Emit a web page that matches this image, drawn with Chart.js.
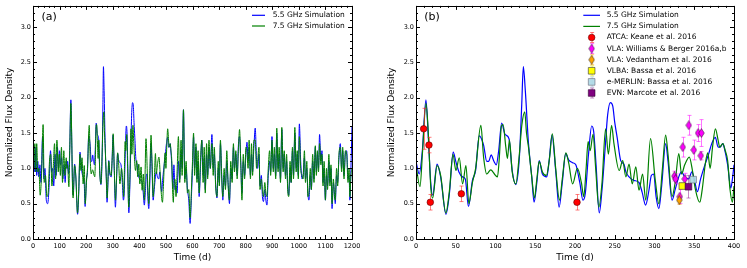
<!DOCTYPE html>
<html>
<head>
<meta charset="utf-8">
<script src="https://cdn.jsdelivr.net/npm/chart.js@4.4.0/dist/chart.umd.min.js"></script>
<style>
  html, body { margin: 0; padding: 0; background: #fff; }
  #wrap { position: relative; width: 747px; height: 268px; overflow: hidden; }
  canvas { position: absolute; top: 0; }
  #chartA { left: 0; }
  #chartB { left: 380px; }
</style>
</head>
<body>
<div id="wrap">
  <canvas id="chartA" width="372" height="268"></canvas>
  <canvas id="chartB" width="367" height="268"></canvas>
</div>
<script>
const FONT = "DejaVu Sans";

// tick labels
const yTicks = [0, 0.5, 1.0, 1.5, 2.0, 2.5, 3.0];
const xTicksA = [0, 100, 200, 300, 400, 500, 600, 700, 800, 900, 1000, 1100, 1200];
const xTicksB = [0, 50, 100, 150, 200, 250, 300, 350, 400];

// panel (a): 1200 d simulation
const tA55 = [0,3,7,11,14,18,22,26,30,36,41,45,50,55,60,66,70,74,78,83,87,92,96,100,104,108,112,117,121,125,128,
  130,134,138,142.5,145.5,148.5,151,156.5,161,167.7,172,176.8,180,184,188.5,192,196,201,205,209.5,
  215,219,221.5,224.5,228,231,234,237.8,242,247,251,255.5,260,263,265,267.5,271.5,275.6,278.5,282,
  285,289,294.5,297.5,301,305.7,310,314,318.3,322,327,331,336,340,343,347,351,353.5,356.5,360.5,
  364,368,371,374.5,377.5,380,383,387.5,391.5,394,398,404,410.5,414.5,418.8,423,426,429,432,435.5,
  439,444,447,452,456,460.5,464,468,473,477,480,484,488,494,498,502,506.5,510,512.5,516,
  518,522,526,528,530,
  534,538,542,547,552,557,561,566,571,576,581,586,591,596,600,604,608,613,617,621,
  625,630,635,640,644,648,653,657,662,667,673,678,682,687,692,697,701,705,710,714,
  719,724,729,734,739,744,749,754,758,763,768,773,777,782,786,791,796,801,805,809,
  813,818,822,826,831,836,841,845,850,854,859,863,867,872,876,880,885,890,894,899,
  904,908,913,917,922,926,931,936,941,945,950,954,958,962,967,971,976,980,985,990,
  994,998,1002,1007,1012,1016,1021,1025,1030,1034,1038,1043,1047,1052,1057,1062,1066,1070,1074,1078,
  1083,1087,1091,1095,1100,1104,1108,1113,1117,1121,1125,1130,1134,1137,1142,1146,1151,1156,1161,1165,
  1170,1175,1180,1185,1189,1192,1196,1200];
const fA55 = [0.80,1.25,0.95,1.30,0.90,1.10,0.88,1.05,0.80,1.45,0.85,1.00,0.55,0.50,0.70,1.25,0.95,1.00,0.75,1.20,0.90,1.30,1.00,1.25,1.05,1.15,0.85,1.05,0.80,1.10,1.00,
  1.10,0.92,1.25,1.97,1.44,0.80,0.62,1.06,0.88,0.35,0.64,1.23,1.10,0.95,0.88,0.85,0.46,0.83,0.97,1.46,
  1.33,1.10,1.10,1.19,1.10,1.05,1.25,1.64,1.48,1.42,0.97,0.77,1.15,1.90,2.44,2.10,1.35,0.88,0.52,0.80,
  1.11,0.92,0.88,1.11,1.47,0.97,0.45,0.80,1.21,1.12,1.08,1.05,0.80,0.55,0.65,1.20,1.60,1.52,1.05,0.37,
  0.70,1.30,1.75,1.93,1.88,1.65,1.44,1.11,1.06,0.95,0.88,0.83,0.80,0.66,0.48,0.69,0.90,0.92,0.60,0.43,
  0.75,1.35,1.10,0.55,0.70,0.88,0.95,0.88,0.85,0.95,0.85,0.67,0.85,1.07,1.20,1.35,1.44,1.30,1.30,1.35,
  1.28,1.05,0.72,0.85,1.05,
  0.70,0.75,0.65,1.10,0.85,1.25,1.00,1.83,0.85,1.00,0.70,0.55,0.22,0.60,1.00,1.45,1.00,1.30,0.85,1.10,
  0.60,1.00,1.40,0.90,1.15,0.70,1.20,0.90,1.30,1.00,1.48,1.00,1.20,0.80,0.58,1.00,0.80,1.35,0.90,0.55,
  0.90,0.75,1.10,0.80,0.50,1.00,0.85,1.30,1.00,1.20,0.90,1.35,1.45,1.05,0.65,1.10,0.90,1.20,1.37,1.10,
  1.30,0.90,1.20,0.95,1.30,1.57,1.10,1.00,1.20,0.75,0.90,0.60,0.53,0.70,0.55,0.48,0.90,1.10,0.95,1.45,
  1.00,1.20,0.90,1.50,1.00,1.20,0.85,1.55,1.00,1.20,0.90,1.10,0.75,0.62,1.00,0.80,1.25,0.90,1.50,1.00,
  1.20,0.90,1.63,1.10,0.85,0.90,1.15,0.85,1.00,0.65,0.55,0.90,0.70,1.10,0.85,1.30,0.95,1.20,1.00,1.48,
  1.10,1.25,0.80,1.00,0.55,0.90,0.75,1.10,0.80,1.00,0.43,0.80,0.65,0.50,0.90,0.80,1.15,1.35,1.00,1.25,
  0.90,1.20,1.25,0.85,0.90,0.55,1.00,1.60];

const tA75 = [0,3,7,10,14,18,22,27,33,38,42,47,52,57,62,67,71,76,81,85,90,95,99,103,107,111,116,120,125,128,
  130,135,138.3,142.5,145,148.8,151,156.5,161,167.5,172,176.5,180.2,184.4,188.6,192.8,196.5,201,205,211.6,
  215,219,224,230,232.5,234.5,237.5,239.5,243,245,247.5,251,255.5,260,263,266.8,269,271.5,275.6,279,
  282,285,289,294,298,301.5,305.7,310.5,314,318.5,322,327,333,338,341,344,346.5,349,352.7,356,
  360,364,368.5,372,376,379,385.6,390,394,398,402,406.5,410.5,415,419,425,431,435.5,440,444,
  447,452,456,460.6,464,468,473.8,478,481.5,487,490,494,497,500,503,506.6,510,512,516,519,
  522,525,528,530,
  534,538,542,547,552,557,561,566,571,576,581,586,591,596,600,604,608,613,617,621,
  625,630,635,640,644,648,653,657,662,667,673,678,682,687,692,697,701,705,710,714,
  719,724,729,734,739,744,749,754,758,763,768,773,777,782,786,791,796,801,805,809,
  813,818,822,826,831,836,841,845,850,854,859,863,867,872,876,880,885,890,894,899,
  904,908,913,917,922,926,931,936,941,945,950,954,958,962,967,971,976,980,985,990,
  994,998,1002,1007,1012,1016,1021,1025,1030,1034,1038,1043,1047,1052,1057,1062,1066,1070,1074,1078,
  1083,1087,1091,1095,1100,1104,1108,1113,1117,1121,1125,1130,1134,1137,1142,1146,1151,1156,1161,1165,
  1170,1175,1180,1185,1189,1192,1196,1200];
const fA75 = [1.30,1.00,1.35,0.95,1.35,0.95,1.00,0.62,1.00,1.62,0.80,0.90,0.60,0.65,1.10,1.20,0.75,1.00,1.35,0.85,1.40,0.95,1.20,0.90,1.30,0.80,1.25,0.90,1.15,1.00,
  1.05,0.74,1.25,1.92,1.60,0.70,0.58,1.04,0.90,0.37,0.68,1.20,0.97,1.15,0.78,1.04,0.50,0.80,1.00,1.61,
  1.16,0.92,0.98,0.90,0.88,1.10,1.60,1.62,1.30,1.14,1.40,0.95,0.78,1.20,1.60,1.80,1.50,1.30,0.88,0.58,
  0.85,1.10,0.95,0.90,1.15,1.49,1.00,0.55,0.85,1.22,1.08,0.78,1.00,0.80,0.60,1.00,1.38,1.25,1.48,1.00,
  0.45,0.80,1.56,1.20,1.61,1.35,0.97,1.11,0.88,1.06,0.78,1.02,0.69,0.92,0.55,1.42,0.83,0.50,1.00,1.47,
  1.20,0.60,0.80,1.21,0.92,1.05,1.16,0.95,0.70,0.52,0.70,1.07,1.22,1.00,1.30,1.56,1.40,1.30,1.35,1.25,
  1.11,0.70,0.52,0.75,
  0.85,0.60,0.95,1.45,0.80,1.40,0.90,1.83,0.80,1.10,0.65,0.70,0.30,0.70,1.10,1.50,0.90,1.35,0.80,1.25,
  0.65,1.10,1.40,0.80,1.30,0.65,1.35,0.85,1.40,1.00,1.35,0.90,1.30,0.75,0.60,1.10,0.75,1.40,0.85,0.60,
  1.00,0.70,1.25,0.75,0.55,1.10,0.80,1.35,0.95,1.25,0.85,1.30,1.55,1.00,0.55,1.20,0.85,1.30,1.25,1.00,
  1.40,0.85,1.35,0.90,1.40,1.40,1.00,1.10,1.30,0.70,0.85,0.70,0.60,0.80,0.65,0.60,1.00,1.25,0.90,1.40,
  0.95,1.30,0.85,1.57,0.95,1.30,0.80,1.58,0.95,1.25,0.85,1.20,0.70,0.60,1.10,0.80,1.30,0.85,1.58,0.95,
  1.25,0.85,1.45,1.00,0.90,0.85,1.25,0.80,1.10,0.60,0.65,1.00,0.70,1.20,0.80,1.32,0.90,1.25,0.95,1.35,
  1.05,1.20,0.75,1.10,0.55,1.00,0.70,1.20,0.75,1.05,0.50,0.85,0.60,0.55,1.00,0.75,1.20,1.30,0.95,1.30,
  0.85,1.25,1.20,0.80,1.00,0.60,0.90,1.00];

// panel (b): first 400 d with observations
const tB55 = [0,4,8,12.5,15.5,18.5,21,26.5,31,37.7,42,46.8,50,54,58.5,62,66,71,75,79.5,
  85,89,91.5,94.5,98,101,104,107.8,112,117,121,125.5,130,133,135,137.5,141.5,145.6,148.5,152,
  155,159,164.5,167.5,171,175.7,180,184,188.3,192,197,201,206,210,213,217,221,223.5,226.5,230.5,
  234,238,241,244.5,247.5,250,253,257.5,261.5,264,268,274,280.5,284.5,288.8,293,296,299,302,305.5,
  309,314,317,322,326,330.5,334,338,343,347,350,354,358,364,368,372,376.5,380,382.5,386,
  388,392,396,398,400];
const fB55 = [1.10,0.92,1.25,1.97,1.44,0.80,0.62,1.06,0.88,0.35,0.64,1.23,1.10,0.95,0.88,0.85,0.46,0.83,0.97,1.46,
  1.33,1.10,1.10,1.19,1.10,1.05,1.25,1.64,1.48,1.42,0.97,0.77,1.15,1.90,2.44,2.10,1.35,0.88,0.52,0.80,
  1.11,0.92,0.88,1.11,1.47,0.97,0.45,0.80,1.21,1.12,1.08,1.05,0.80,0.55,0.65,1.20,1.60,1.52,1.05,0.37,
  0.70,1.30,1.75,1.93,1.88,1.65,1.44,1.11,1.06,0.95,0.88,0.83,0.80,0.66,0.48,0.69,0.90,0.92,0.60,0.43,
  0.75,1.35,1.10,0.55,0.70,0.88,0.95,0.88,0.85,0.95,0.85,0.67,0.85,1.07,1.20,1.35,1.44,1.30,1.30,1.35,
  1.28,1.05,0.72,0.85,1.05];
const tB75 = [0,5,8.3,12.5,15,18.8,21,26.5,31,37.5,42,46.5,50.2,54.4,58.6,62.8,66.5,71,75,81.6,
  85,89,94,100,102.5,104.5,107.5,109.5,113,115,117.5,121,125.5,130,133,136.8,139,141.5,145.6,149,
  152,155,159,164,168,171.5,175.7,180.5,184,188.5,192,197,203,208,211,214,216.5,219,222.7,226,
  230,234,238.5,242,246,249,255.6,260,264,268,272,276.5,280.5,285,289,295,301,305.5,310,314,
  317,322,326,330.6,334,338,343.8,348,351.5,357,360,364,367,370,373,376.6,380,382,386,389,
  392,395,398,400];
const fB75 = [1.05,0.74,1.25,1.92,1.60,0.70,0.58,1.04,0.90,0.37,0.68,1.20,0.97,1.15,0.78,1.04,0.50,0.80,1.00,1.61,
  1.16,0.92,0.98,0.90,0.88,1.10,1.60,1.62,1.30,1.14,1.40,0.95,0.78,1.20,1.60,1.80,1.50,1.30,0.88,0.58,
  0.85,1.10,0.95,0.90,1.15,1.49,1.00,0.55,0.85,1.22,1.08,0.78,1.00,0.80,0.60,1.00,1.38,1.25,1.48,1.00,
  0.45,0.80,1.56,1.20,1.61,1.35,0.97,1.11,0.88,1.06,0.78,1.02,0.69,0.92,0.55,1.42,0.83,0.50,1.00,1.47,
  1.20,0.60,0.80,1.21,0.92,1.05,1.16,0.95,0.70,0.52,0.70,1.07,1.22,1.00,1.30,1.56,1.40,1.30,1.35,1.25,
  1.11,0.70,0.52,0.75];

// observations: time, flux, error
const atcaT = [9.6, 16.3, 18, 57, 202.5];
const atcaF = [1.56, 1.33, 0.52, 0.64, 0.52];
const atcaE = [0.29, 0.11, 0.11, 0.11, 0.11];
const wbT = [325, 326.5, 331.8, 335.6, 338.1, 343.1, 349.4, 354.8, 358.2, 359];
const wbF = [0.89, 0.85, 0.60, 1.30, 0.85, 1.61, 1.26, 1.50, 1.18, 1.50];
const wbE = [0.07, 0.07, 0.10, 0.14, 0.08, 0.14, 0.14, 0.12, 0.06, 0.19];
const vedT = [331.2];
const vedF = [0.55];
const vedE = [0.06];
const vlbaT = [335];
const vlbaF = [0.75];
const vlbaE = [0.04];
const merlinT = [348.6];
const merlinF = [0.84];
const merlinE = [0.03];
const evnT = [342.7];
const evnF = [0.74];
const evnE = [0.16];

const pts = (t, f) => t.map((v, i) => ({x: v, y: f[i]}));

function makeDiamond(fill) {
  const c = document.createElement("canvas");
  c.width = 7; c.height = 10;
  const g = c.getContext("2d");
  g.beginPath();
  g.moveTo(3.5, 0.6); g.lineTo(6.3, 5); g.lineTo(3.5, 9.4); g.lineTo(0.7, 5); g.closePath();
  g.fillStyle = fill; g.fill();
  g.strokeStyle = "rgba(0,0,0,0.8)"; g.lineWidth = 0.6; g.stroke();
  return c;
}

// frame + inward major/minor ticks on all four sides
const frameTicks = {
  id: "frameTicks",
  afterDraw(chart, args, o) {
    const {ctx, chartArea: a, scales: {x, y}} = chart;
    ctx.save();
    ctx.strokeStyle = "#000";
    ctx.lineWidth = 1;
    ctx.beginPath();
    const nx = Math.round((x.max - x.min) / o.minorX);
    for (let i = 0; i <= nx; i++) {
      const px = Math.round(x.getPixelForValue(x.min + i * o.minorX)) + 0.5;
      const len = i % 5 === 0 ? 4 : 2;
      ctx.moveTo(px, a.bottom); ctx.lineTo(px, a.bottom - len);
      ctx.moveTo(px, a.top); ctx.lineTo(px, a.top + len);
    }
    const ny = Math.round((y.max - y.min) / o.minorY);
    for (let i = 0; i <= ny; i++) {
      const py = Math.round(y.getPixelForValue(y.min + i * o.minorY)) + 0.5;
      const len = i % 5 === 0 ? 4 : 2;
      ctx.moveTo(a.left, py); ctx.lineTo(a.left + len, py);
      ctx.moveTo(a.right, py); ctx.lineTo(a.right - len, py);
    }
    ctx.stroke();
    ctx.strokeRect(Math.round(a.left) + 0.5, Math.round(a.top) + 0.5,
      Math.round(a.right - a.left), Math.round(a.bottom - a.top));
    ctx.font = "11px '" + FONT + "'";
    ctx.fillStyle = "#000";
    ctx.textBaseline = "middle";
    ctx.fillText(o.panel, o.px, o.py);
    ctx.restore();
  }
};

// vertical error bars drawn just before each marker dataset
const errorBars = {
  id: "errorBars",
  beforeDatasetDraw(chart, args) {
    const ds = chart.data.datasets[args.index];
    if (!ds.errors) return;
    const {ctx, scales: {x, y}} = chart;
    ctx.save();
    ctx.strokeStyle = ds.errColor;
    ctx.lineWidth = 1;
    ds.data.forEach((p, i) => {
      const e = ds.errors[i];
      const px = Math.round(x.getPixelForValue(p.x)) + 0.5;
      const y1 = y.getPixelForValue(p.y + e), y2 = y.getPixelForValue(p.y - e);
      ctx.beginPath();
      ctx.moveTo(px, y1); ctx.lineTo(px, y2);
      ctx.moveTo(px - 2, y1); ctx.lineTo(px + 2, y1);
      ctx.moveTo(px - 2, y2); ctx.lineTo(px + 2, y2);
      ctx.stroke();
    });
    ctx.restore();
  }
};

// frameless legend, matplotlib style
const legendBox = {
  id: "legendBox",
  afterDraw(chart, args, o) {
    const ctx = chart.ctx;
    ctx.save();
    ctx.font = o.size + "px '" + FONT + "'";
    ctx.textBaseline = "middle";
    chart.data.datasets.forEach((ds, i) => {
      const yy = o.y0 + o.dy * i;
      if (ds.showLine) {
        ctx.strokeStyle = ds.borderColor;
        ctx.lineWidth = 1.2;
        ctx.beginPath(); ctx.moveTo(o.x0, yy); ctx.lineTo(o.x1, yy); ctx.stroke();
      } else {
        const cx = (o.x0 + o.x1) / 2;
        if (ds.errors) {
          ctx.strokeStyle = ds.errColor; ctx.lineWidth = 1;
          ctx.beginPath();
          ctx.moveTo(cx + 0.5, yy - 5); ctx.lineTo(cx + 0.5, yy + 5);
          ctx.moveTo(cx - 1.5, yy - 5); ctx.lineTo(cx + 2.5, yy - 5);
          ctx.moveTo(cx - 1.5, yy + 5); ctx.lineTo(cx + 2.5, yy + 5);
          ctx.stroke();
        }
        ctx.fillStyle = ds.backgroundColor;
        ctx.strokeStyle = ds.borderColor;
        ctx.lineWidth = ds.borderWidth;
        Chart.helpers.drawPoint(ctx, {pointStyle: ds.pointStyle, radius: ds.pointRadius, rotation: 0, borderWidth: ds.borderWidth}, cx, yy);
      }
      ctx.fillStyle = "#000";
      ctx.fillText(ds.label, o.tx, yy);
    });
    ctx.restore();
  }
};

Chart.defaults.font.family = FONT;
Chart.defaults.color = "#000";

function axes(xmax, xTicks, yWidth, titlePad) {
  return {
    x: {
      type: "linear", min: 0, max: xmax,
      afterBuildTicks: s => { s.ticks = xTicks.map(v => ({value: v})); },
      afterFit: s => { s.height = 29; },
      ticks: {font: {size: 6.5}, padding: 3, maxRotation: 0, autoSkip: false, callback: v => String(v)},
      grid: {display: false, drawTicks: false},
      border: {display: false},
      title: {display: true, text: "Time (d)", font: {size: 9}, padding: {top: 0, bottom: 5}}
    },
    y: {
      type: "linear", min: 0, max: 3.3,
      afterBuildTicks: s => { s.ticks = yTicks.map(v => ({value: v})); },
      afterFit: s => { s.width = yWidth; },
      ticks: {font: {size: 6.5}, padding: 2, callback: v => v.toFixed(1)},
      grid: {display: false, drawTicks: false},
      border: {display: false},
      title: {display: true, text: "Normalized Flux Density", font: {size: 9}, padding: {top: titlePad, bottom: 0}}
    }
  };
}

function lineSet(label, data, color, order, width) {
  return {label, data, showLine: true, borderColor: color, backgroundColor: color,
    borderWidth: width, pointRadius: 0, cubicInterpolationMode: "monotone", order};
}
function obsSet(label, data, errors, fill, edge, errColor, style, radius, order) {
  return {label, data, errors, errColor, showLine: false, backgroundColor: fill, borderColor: edge,
    borderWidth: 0.6, pointStyle: style, pointRadius: radius, order};
}

new Chart(document.getElementById("chartA"), {
  type: "scatter",
  data: {datasets: [
    lineSet("5.5 GHz Simulation", pts(tA55, fA55), "#0000ff", 2, 1),
    lineSet("7.5 GHz Simulation", pts(tA75, fA75), "#008000", 1, 1)
  ]},
  plugins: [frameTicks, legendBox],
  options: {
    responsive: false, animation: false, devicePixelRatio: 1, events: [],
    layout: {padding: {top: 5, right: 20, bottom: 0, left: 0}},
    scales: axes(1200, xTicksA, 33, 4.6),
    plugins: {
      legend: {display: false}, tooltip: {enabled: false},
      frameTicks: {minorX: 20, minorY: 0.1, panel: "(a)", px: 41.5, py: 16.7},
      legendBox: {x0: 252, x1: 265, tx: 272.7, y0: 15.3, dy: 10.7, size: 7.5}
    }
  }
});

new Chart(document.getElementById("chartB"), {
  type: "scatter",
  data: {datasets: [
    lineSet("5.5 GHz Simulation", pts(tB55, fB55), "#0000ff", 10, 1.2),
    lineSet("7.5 GHz Simulation", pts(tB75, fB75), "#008000", 9, 1.2),
    obsSet("ATCA: Keane et al. 2016", pts(atcaT, atcaF), atcaE, "#ff0000", "#600000", "rgba(255,40,40,0.6)", "circle", 3.3, 6),
    obsSet("VLA: Williams & Berger 2016a,b", pts(wbT, wbF), wbE, "#ff00ff", "#000", "rgba(255,0,255,0.55)", makeDiamond("#ff00ff"), 4, 5),
    obsSet("VLA: Vedantham et al. 2016", pts(vedT, vedF), vedE, "#ffa500", "#000", "rgba(255,165,0,0.55)", makeDiamond("#ffa500"), 4, 4),
    obsSet("VLBA: Bassa et al. 2016", pts(vlbaT, vlbaF), vlbaE, "#ffff00", "#333", "rgba(230,230,0,0.55)", "rect", 4.7, 3),
    obsSet("e-MERLIN: Bassa et al. 2016", pts(merlinT, merlinF), merlinE, "rgba(173,216,230,0.9)", "#667", "rgba(150,190,210,0.5)", "rect", 4.7, 2),
    obsSet("EVN: Marcote et al. 2016", pts(evnT, evnF), evnE, "#800080", "#300030", "rgba(128,0,128,0.45)", "rect", 4.7, 1)
  ]},
  plugins: [errorBars, frameTicks, legendBox],
  options: {
    responsive: false, animation: false, devicePixelRatio: 1, events: [],
    layout: {padding: {top: 5, right: 13, bottom: 0, left: 0}},
    scales: axes(400, xTicksB, 36, 6.6),
    plugins: {
      legend: {display: false}, tooltip: {enabled: false},
      frameTicks: {minorX: 10, minorY: 0.1, panel: "(b)", px: 44.3, py: 16.7},
      legendBox: {x0: 203.3, x1: 220, tx: 226.7, y0: 15.3, dy: 11.1, size: 7.5}
    }
  }
});
</script>
</body>
</html>
